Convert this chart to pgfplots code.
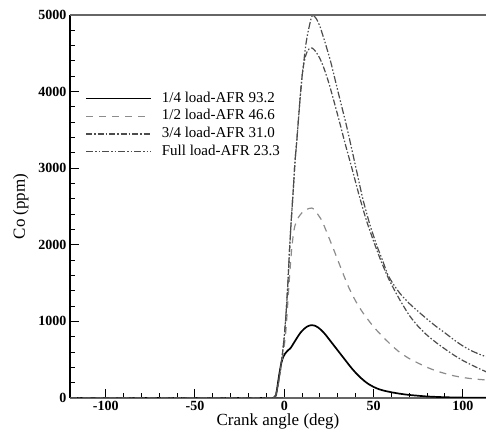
\documentclass[border=0pt]{standalone}
\usepackage{fontspec}
\setmainfont{Liberation Serif}
\usepackage{pgfplots}
\pgfplotsset{compat=1.18}
\begin{document}
\begin{tikzpicture}
\begin{axis}[
  scale only axis,
  width=416pt, height=383pt,
  xmin=-120, xmax=113,
  ymin=0, ymax=5000,
  axis lines*=left,
  axis line style={-},
  x axis line style={draw=black!60, line width=1.5pt},
  y axis line style={draw=black, line width=1.2pt},
  tick align=inside,
  xtick={-100,-50,0,50,100},
  ytick={0,1000,2000,3000,4000,5000},
  minor tick num=4,
  major tick length=9pt,
  minor tick length=5pt,
  every tick/.style={black, line width=1pt},
  /pgf/number format/assume math mode=true,
  /pgf/number format/set thousands separator={},
  tick label style={font=\fontsize{14}{14}\selectfont\bfseries},
  xlabel={Crank angle (deg)},
  ylabel={Co (ppm)},
  label style={font=\fontsize{17}{17}\selectfont},
  xlabel style={yshift=4pt},
  ylabel style={yshift=3pt},
  legend cell align=left,
  legend image code/.code={\draw[#1] (0pt,0pt) -- (65pt,0pt);},
  legend style={at={(axis description cs:0.036,0.803)}, anchor=north west,
    draw=none, fill=none, inner sep=0pt, row sep=1.7pt, column sep=9pt,
    font=\fontsize{15}{15}\selectfont,
    nodes={inner sep=1pt, text height=10.5pt, text depth=3.5pt}},
  after end axis/.code={\draw[black!60, line width=1.5pt] (rel axis cs:0,1) -- (rel axis cs:1,1);},
]
% 1/4 load
\addplot[black, line width=1.7pt, smooth, tension=0.4] coordinates {
(-120,0) (-7,0) (-5.5,2) (-4.5,50) (-3.5,200) (-2.5,350) (-1.5,470) (-0.5,540) (0.5,580) (2,620) (3.5,650) (5,705) (7,780) (9,850) (11,900) (13,935) (15,950) (17,945) (19,920) (21,880) (23,830) (25,770) (27,710) (29,650) (31,590) (33,530) (35,470) (37,410) (39,355) (41,305) (43,260) (45,220) (47,185) (50,145) (53,115) (56,95) (60,75) (65,55) (70,40) (80,20) (90,10) (100,5) (113,2)
};
\addlegendentry{1/4 load-AFR 93.2}
% 1/2 load
\addplot[black!45, line width=1.2pt, dash pattern=on 7pt off 6pt, smooth, tension=0.4] coordinates {
(-120,0) (-7,0) (-6,5) (-5,30) (-4,100) (-3,220) (-2,370) (-1,530) (0,680) (1,900) (2,1250) (3,1600) (4,1900) (5,2120) (6,2250) (8,2360) (10,2420) (12,2455) (14,2475) (15.5,2480) (17,2460) (19,2390) (21,2320) (23,2210) (25,2095) (28.5,1890) (32,1680) (36,1450) (40,1265) (44,1115) (50,930) (55,805) (60,690) (65,590) (70,515) (75,455) (80,400) (85,355) (90,320) (95,290) (100,268) (105,252) (113,235)
};
\addlegendentry{1/2 load-AFR 46.6}
% 3/4 load
\addplot[black!70, line width=1.2pt, dash pattern=on 6pt off 2pt on 1.5pt off 2pt, smooth, tension=0.4] coordinates {
(-120,0) (-7,0) (-6,5) (-5,30) (-4,110) (-3,240) (-2,400) (-1,580) (0,800) (1,1100) (2,1480) (3,1950) (4,2350) (5,2700) (6,3080) (7,3350) (8,3650) (9,3950) (10,4200) (11,4370) (12,4470) (13,4530) (14,4560) (15.5,4570) (17,4540) (18,4510) (20,4430) (22,4320) (25,4110) (28,3860) (31,3600) (34,3330) (38,2990) (42,2640) (46,2320) (50,2050) (54,1800) (58,1580) (61,1440) (65,1270) (70,1080) (75,935) (80,820) (85,725) (90,640) (95,560) (100,490) (105,430) (110,375) (113,343)
};
\addlegendentry{3/4 load-AFR 31.0}
% Full load
\addplot[black!70, line width=1.2pt, dash pattern=on 7pt off 2pt on 1.5pt off 2pt on 1.5pt off 2pt, smooth, tension=0.4] coordinates {
(-120,0) (-7,0) (-6,5) (-5,30) (-4,110) (-3,240) (-2,400) (-1,580) (0,800) (1,1100) (2,1480) (3,1950) (4,2350) (5,2700) (6,3080) (7,3350) (8,3650) (9,3950) (10,4200) (11,4400) (12,4600) (13,4740) (14,4850) (15,4950) (16,5000) (18,4950) (20,4850) (23,4630) (26,4390) (30,4010) (35,3540) (40,3020) (44,2600) (48,2260) (52,1980) (55,1800) (58,1610) (61,1490) (65,1360) (70,1235) (75,1130) (80,1030) (85,935) (90,850) (95,760) (100,680) (105,615) (110,565) (113,540)
};
\addlegendentry{Full load-AFR 23.3}
\end{axis}
\pgfresetboundingbox
\path[use as bounding box] (-70pt,-37pt) rectangle (416pt,398pt);
\end{tikzpicture}
\end{document}
